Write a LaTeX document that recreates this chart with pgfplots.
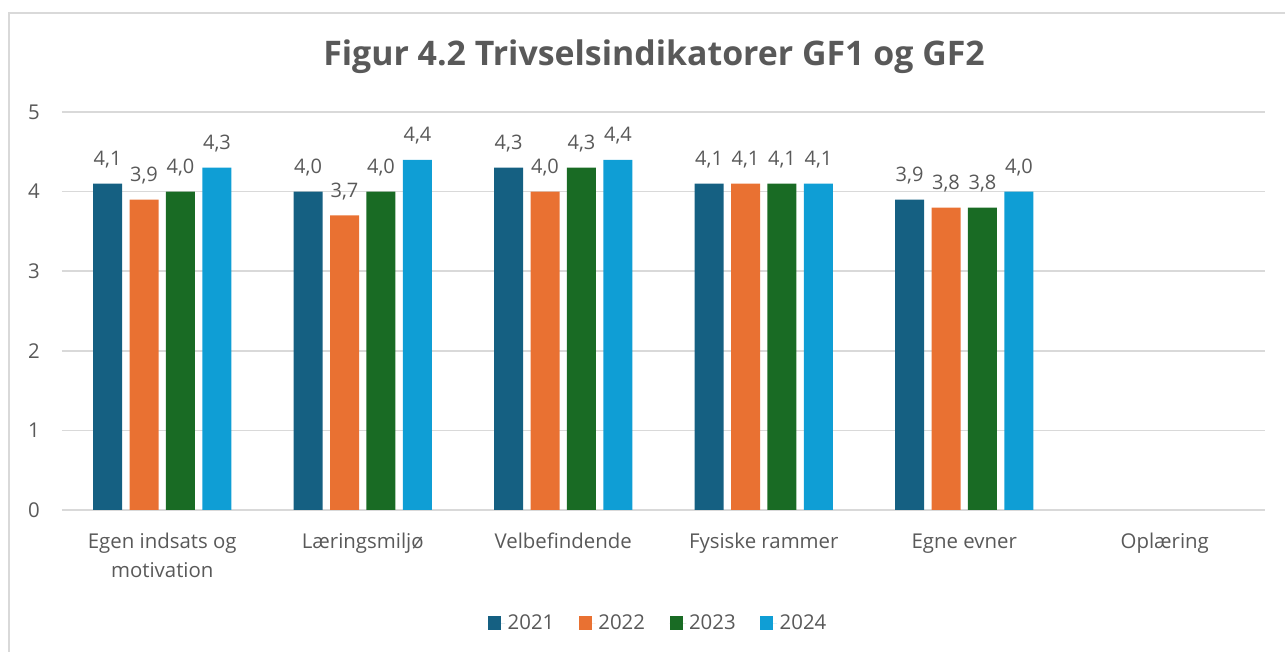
\documentclass[border=0pt]{standalone}
\usepackage{pgfplots}
\pgfplotsset{compat=1.18}
\usepackage{fontspec}
\setmainfont{Open Sans}

\definecolor{c21}{HTML}{156082}
\definecolor{c22}{HTML}{E97132}
\definecolor{c23}{HTML}{196B24}
\definecolor{c24}{HTML}{0F9ED5}
\definecolor{txt}{HTML}{595959}
\definecolor{gridc}{HTML}{D9D9D9}

% category label, one or two lines, same top for all
\newcommand\xl[1]{\begin{tabular}[t]{@{}c@{}}#1\end{tabular}}

\begin{document}
\begin{tikzpicture}
\path[use as bounding box] (0,0) rectangle (963.75pt,489pt);
\draw[gridc, line width=1pt] (6.75pt,0) -- (6.75pt,479.25pt) -- (963.75pt,479.25pt);
\node[font=\fontsize{25.4}{30}\selectfont\bfseries, text=txt] at (490.5pt,446.25pt)
  {Figur 4.2 Trivselsindikatorer GF1 og GF2};
\begin{axis}[
  at={(46.5pt,106.5pt)}, anchor=south west,
  scale only axis, width=902.25pt, height=298.5pt,
  xmin=-0.5, xmax=5.5, ymin=0, ymax=5,
  ybar=5.6pt, bar width=21.75pt,
  axis line style={draw=none},
  major tick length=0pt,
  ytick={0,1,2,3,4,5},
  ymajorgrids, major grid style={gridc, line width=1.1pt},
  xtick={0,1,2,3,4,5},
  xticklabels={\xl{Egen indsats og\\motivation},\xl{Læringsmiljø},\xl{Velbefindende},\xl{Fysiske rammer},\xl{Egne evner},\xl{Oplæring}},
  /pgf/number format/assume math mode=true,
  ticklabel style={font=\fontsize{15.3}{21.4}\selectfont, text=txt},
  xticklabel style={anchor=north, inner sep=0pt, yshift=-14pt},
  yticklabel style={anchor=east, inner sep=0pt, xshift=-16.5pt},
  nodes near coords={\pgfmathprintnumber[fixed,fixed zerofill,precision=1,use comma]{\pgfplotspointmeta}},
  every node near coord/.append style={font=\fontsize{15}{18}\selectfont, text=txt, anchor=base, inner sep=0pt, yshift=13.5pt},
  legend style={at={(0.496,-0.284)}, anchor=center, legend columns=4, draw=none,
    font=\fontsize{15.3}{18}\selectfont, text=txt,
    /tikz/every even column/.append style={column sep=16.5pt}},
  legend image code/.code={\fill[#1] (0pt,-5pt) rectangle (9.75pt,5pt); \path (0pt,0pt) -- (12.5pt,0pt);},
]
\addplot[fill=c21, draw=none] coordinates {(0,4.1) (1,4.0) (2,4.3) (3,4.1) (4,3.9)};
\addplot[fill=c22, draw=none] coordinates {(0,3.9) (1,3.7) (2,4.0) (3,4.1) (4,3.8)};
\addplot[fill=c23, draw=none] coordinates {(0,4.0) (1,4.0) (2,4.3) (3,4.1) (4,3.8)};
\addplot[fill=c24, draw=none] coordinates {(0,4.3) (1,4.4) (2,4.4) (3,4.1) (4,4.0)};
\legend{2021,2022,2023,2024}
\end{axis}
\end{tikzpicture}
\end{document}
